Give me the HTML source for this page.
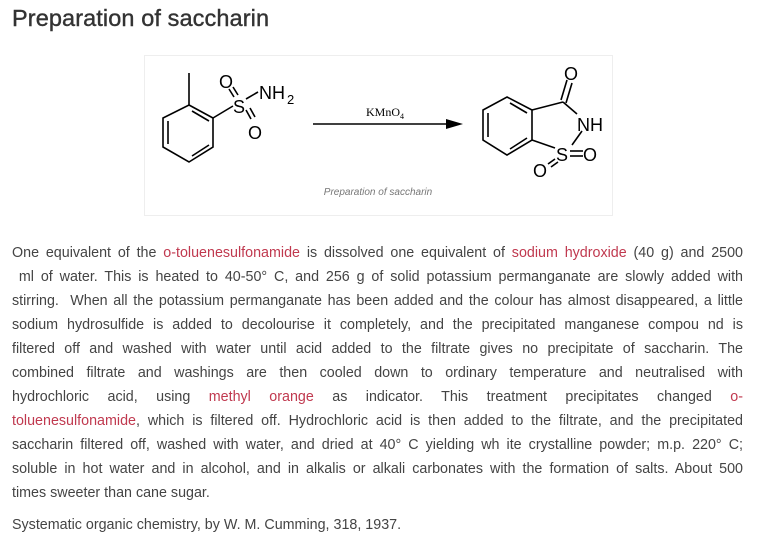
<!DOCTYPE html>
<html><head><meta charset="utf-8"><style>
body{margin:0;background:#fff;width:757px;height:545px;overflow:hidden;font-family:"Liberation Sans",sans-serif;position:relative}
h1{position:absolute;left:12px;top:5px;margin:0;font-size:23.5px;font-weight:normal;color:#333;letter-spacing:0.1px;-webkit-text-stroke:0.4px #333}
.box{position:absolute;left:144px;top:55px;width:467px;height:159px;border:1px solid #eee}
.t{position:absolute;left:12px;width:731px;font-size:14.3px;color:#444;text-align:justify;text-align-last:justify;white-space:nowrap;line-height:16px}
.t.l{text-align-last:left}
a{color:#c0394f;text-decoration:none}
</style></head><body>
<h1>Preparation of saccharin</h1>
<div class="box"></div>
<svg style="position:absolute;left:0;top:0" width="757" height="230" font-family="Liberation Sans,sans-serif">
<g stroke="#000" stroke-width="1.6" fill="none">
<polygon points="189,105 213,118 213,147 189,162 163,147 163,118"/>
<line x1="168" y1="121" x2="168" y2="144"/><line x1="192" y1="156" x2="209" y2="145"/><line x1="192" y1="111" x2="209" y2="121"/>
<line x1="189" y1="105" x2="189" y2="73"/>
<line x1="213" y1="118" x2="233" y2="106"/>
<line x1="229" y1="89" x2="234" y2="97"/><line x1="233" y1="87" x2="238" y2="95"/>
<line x1="246" y1="110" x2="251" y2="119"/><line x1="250" y1="108" x2="255" y2="117"/>
<line x1="246" y1="99" x2="258" y2="92"/>
<line x1="313" y1="124" x2="450" y2="124"/>
<polygon points="507,97 532,110 532,140 507,155 483,140 483,110"/>
<line x1="488" y1="113" x2="488" y2="137"/><line x1="510" y1="149" x2="527" y2="138"/><line x1="510" y1="103" x2="527" y2="113"/>
<line x1="532" y1="110" x2="563" y2="102"/>
<line x1="561" y1="100" x2="567" y2="80"/><line x1="566" y1="103" x2="572" y2="83"/>
<line x1="563" y1="102" x2="577" y2="114"/>
<line x1="532" y1="140" x2="555" y2="148"/>
<line x1="582" y1="131" x2="572" y2="145"/>
<line x1="570" y1="151" x2="583" y2="151"/><line x1="570" y1="156" x2="583" y2="156"/>
<line x1="555" y1="159" x2="548" y2="164"/><line x1="558" y1="162" x2="551" y2="167"/>
</g>
<polygon points="463,124 446,119 446,129" fill="#000"/>
<g font-size="18" fill="#000">
<text x="219" y="88">O</text><text x="233" y="113">S</text><text x="248" y="139">O</text>
<text x="259" y="99">NH</text><text x="287" y="104" font-size="13">2</text>
<text x="564" y="80">O</text><text x="577" y="131">NH</text><text x="556" y="161">S</text>
<text x="583" y="161">O</text><text x="533" y="177">O</text>
</g>
<text x="366" y="116" font-family="Liberation Serif,serif" font-size="12">KMnO<tspan font-size="8" dy="3">4</tspan></text>
<text x="378" y="195" font-size="10" font-style="italic" fill="#777" text-anchor="middle">Preparation of saccharin</text>
</svg>
<div class="t" style="top:245px">One equivalent of the <a>o-toluenesulfonamide</a> is dissolved one equivalent of <a>sodium hydroxide</a> (40 g) and 2500</div>
<div class="t" style="top:269px">&nbsp;ml of water. This is heated to 40-50° C, and 256 g of solid potassium permanganate are slowly added with</div>
<div class="t" style="top:293px">stirring.&nbsp; When all the potassium permanganate has been added and the colour has almost disappeared, a little</div>
<div class="t" style="top:317px">sodium hydrosulfide is added to decolourise it completely, and the precipitated manganese compou nd is</div>
<div class="t" style="top:341px">filtered off and washed with water until acid added to the filtrate gives no precipitate of saccharin. The</div>
<div class="t" style="top:365px">combined filtrate and washings are then cooled down to ordinary temperature and neutralised with</div>
<div class="t" style="top:389px">hydrochloric acid, using <a>methyl orange</a> as indicator. This treatment precipitates changed <a>o-</a></div>
<div class="t" style="top:413px"><a>toluenesulfonamide</a>, which is filtered off. Hydrochloric acid is then added to the filtrate, and the precipitated</div>
<div class="t" style="top:437px">saccharin filtered off, washed with water, and dried at 40° C yielding wh ite crystalline powder; m.p. 220° C;</div>
<div class="t" style="top:461px">soluble in hot water and in alcohol, and in alkalis or alkali carbonates with the formation of salts. About 500</div>
<div class="t l" style="top:485px">times sweeter than cane sugar.</div>
<div class="t l" style="top:517px">Systematic organic chemistry, by W. M. Cumming, 318, 1937.</div>
</body></html>
